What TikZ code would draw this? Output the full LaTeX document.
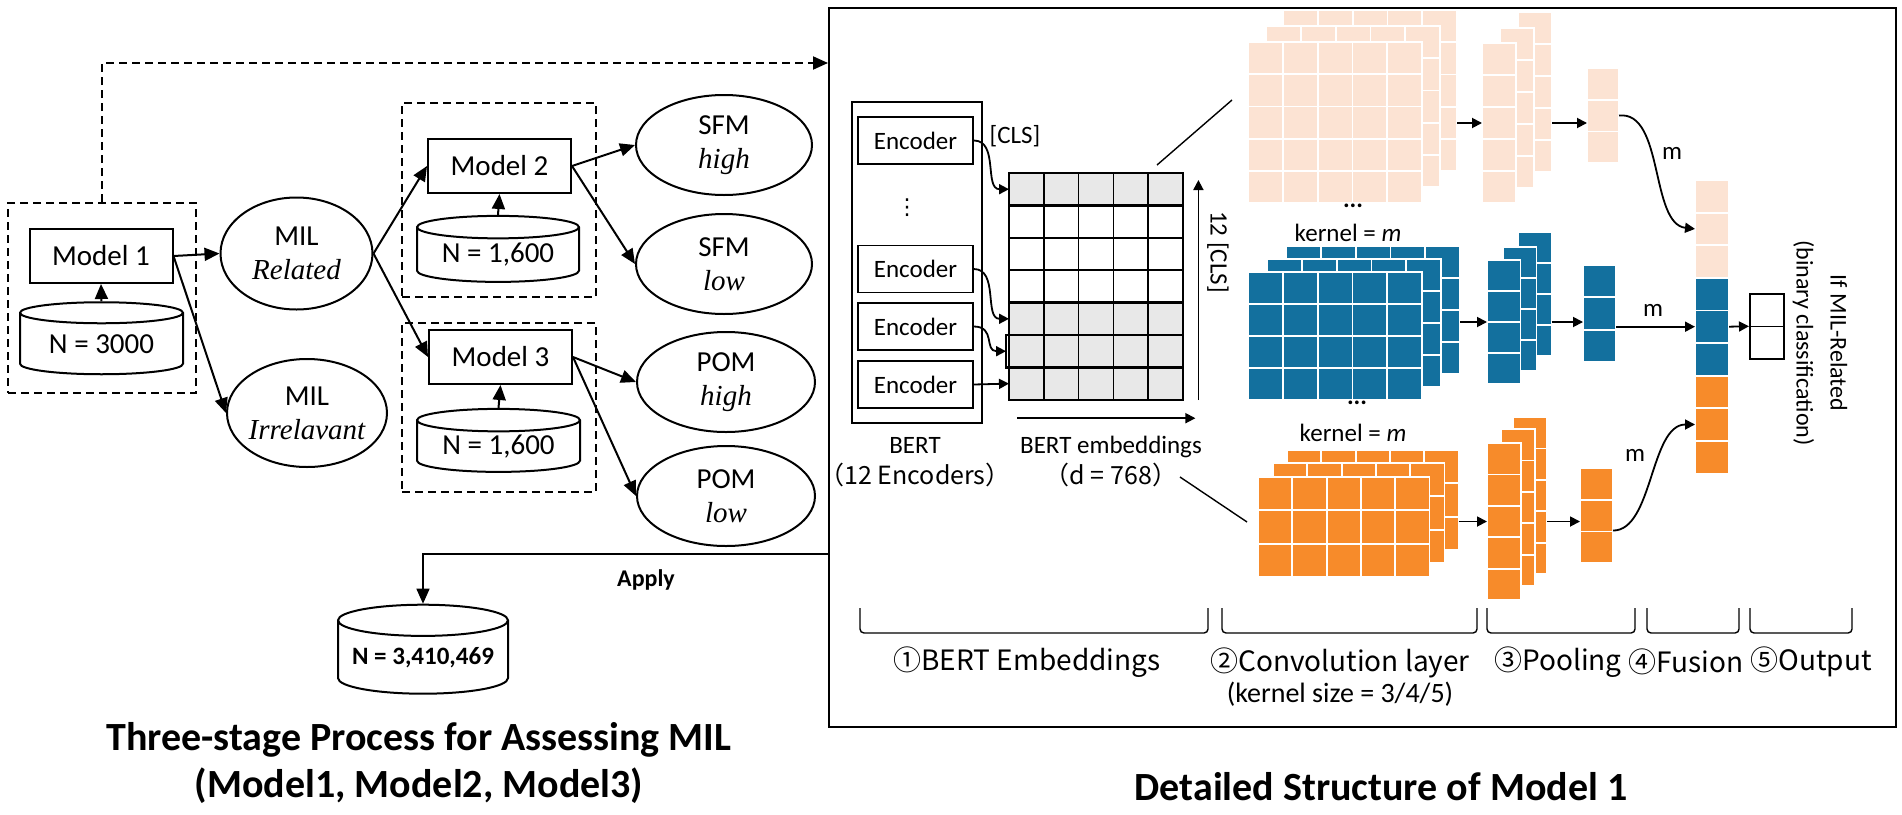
\documentclass[tikz,border=0pt]{standalone}
\usepackage{fontspec}
\setmainfont{Carlito}
\newfontfamily\tnr{Liberation Serif}
\newfontfamily\cjk{Noto Sans CJK SC}
\newfontfamily\dejavu{DejaVu Sans}
\usetikzlibrary{arrows.meta,shapes.geometric,calc}
\definecolor{peach}{HTML}{FCE3D3}
\definecolor{cnnblue}{HTML}{13709E}
\definecolor{cnnorange}{HTML}{F78B2A}
\definecolor{embgray}{HTML}{E8E8E8}
\newcommand\fsz[2]{\fontsize{#1}{#2}\selectfont}
\newcommand\cells[8]{%
  \node[inner sep=0pt, outer sep=0pt, minimum width=#4*#6pt, minimum height=#5*#7pt, anchor=north west] (#1) at (#2,#3) {};
  \foreach \i in {1,...,#4}{\foreach \j in {1,...,#5}{\filldraw[fill=#8, draw=white, line width=1.8pt] ({#2+(\i-1)*#6},{#3+(\j-1)*#7}) rectangle ++(#6,#7);}}}
\begin{document}
\begin{tikzpicture}[x=1pt,y=-1pt,
  box/.style={draw, line width=2pt, minimum width=143pt, minimum height=54pt, inner sep=0pt, font=\fsz{29}{34}},
  grp/.style={draw, line width=2pt, dash pattern=on 8pt off 5pt, inner sep=0pt},
  db/.style={cylinder, shape border rotate=90, aspect=0.2, draw, line width=2pt, inner sep=0pt, font=\fsz{29}{34}},
  oval/.style={ellipse, draw, line width=2pt, inner sep=0pt},
  txt/.style={font=\fsz{29}{34}, align=center, inner sep=0pt},
  arr/.style={line width=2pt, -{Triangle[length=15pt,width=13pt]}},
  enc/.style={draw, line width=1.6pt, minimum width=115pt, minimum height=47pt, inner sep=0pt, font=\fsz{25}{30}},
  lab/.style={font=\fsz{25}{31}, inner sep=0pt, align=center},
  sarr/.style={line width=1.8pt, -{Triangle[length=10pt,width=10pt]}},
  stage/.style={font=\fsz{28}{31}, inner sep=0pt, align=center},
  ttl/.style={font=\bfseries\fsz{40}{47}, inner sep=0pt, align=center},
  brk/.style={line width=1.4pt, rounded corners=4pt}]
\useasboundingbox (0,0) rectangle (1902,814);
\node[grp, minimum width=188pt, minimum height=190pt] (g1) at (102,298) {};
\node[box] (m1) at (101,256) {Model 1};
\node[db, minimum width=163pt, minimum height=72pt] (d1) at (101.5,344) {N = 3000};
\node[oval, minimum width=152pt, minimum height=112pt] (milr) at (296.5,253.5) {};
\node[txt] at (milr) {MIL\\{\tnr\itshape Related}};
\node[oval, minimum width=160pt, minimum height=108pt] (mili) at (307,413) {};
\node[txt] at (mili) {MIL\\{\tnr\itshape Irrelavant}};
\node[grp, minimum width=194pt, minimum height=194pt] (g2) at (499,200) {};
\node[box] (m2) at (499.5,166) {Model 2};
\node[db, minimum width=162pt, minimum height=66pt] (d2) at (498,255) {N = 1,600};
\node[grp, minimum width=194pt, minimum height=169pt] (g3) at (499,407.5) {};
\node[box] (m3) at (500.5,357) {Model 3};
\node[db, minimum width=163pt, minimum height=63pt] (d3) at (498.5,446.5) {N = 1,600};
\node[oval, minimum width=176pt, minimum height=100pt] (sfmh) at (724,145) {};
\node[txt] at (sfmh) {SFM\\{\tnr\itshape high}};
\node[oval, minimum width=176pt, minimum height=100pt] (sfml) at (724,264) {};
\node[txt] at (sfml) {SFM\\{\tnr\itshape low}};
\node[oval, minimum width=178pt, minimum height=100pt] (pomh) at (726,382) {};
\node[txt] at (pomh) {POM\\{\tnr\itshape high}};
\node[oval, minimum width=178pt, minimum height=100pt] (poml) at (726,496) {};
\node[txt] at (poml) {POM\\{\tnr\itshape low}};
\draw[arr] (d1.north) -- (m1.south);
\draw[arr] (d2.north) -- (m2.south);
\draw[arr] (d3.north) -- (m3.south);
\draw[arr] (m1.east) -- (milr.west);
\draw[arr] (m1.east) -- (mili.west);
\draw[arr] (milr.east) -- (m2.west);
\draw[arr] (milr.east) -- (m3.west);
\draw[arr] (m2.east) -- (sfmh.west);
\draw[arr] (m2.east) -- (sfml.west);
\draw[arr] (m3.east) -- (pomh.west);
\draw[arr] (m3.east) -- (poml.west);
\node[draw, line width=2pt, inner sep=0pt, minimum width=1067pt, minimum height=719pt, anchor=north west] (detail) at (828,7) {};
\draw[line width=2pt, dash pattern=on 8pt off 5pt, -{Triangle[length=15pt,width=13pt]}] (g1.north) |- ($(detail.north west)+(0,56)$);
\node[db, aspect=0.22, minimum width=170pt, minimum height=89pt, font=\bfseries\fsz{25}{30}] (d4) at (423,657.5) {N = 3,410,469};
\coordinate (ap) at ($(detail.north west)+(0,547)$);
\draw[line width=1.5pt, -{Triangle[length=15pt,width=13pt]}] (ap) -| (d4.north);
\node[font=\bfseries\fsz{24}{28}, inner sep=0pt] (apply) at (646,580) {Apply};
\node[ttl] (t1) at (419,763) {Three-stage Process for Assessing MIL\\(Model1, Model2, Model3)};
\node[ttl] (t2) at (1381,787) {Detailed Structure of Model 1};
\node[draw, line width=1.6pt, inner sep=0pt, minimum width=130pt, minimum height=321pt] (bert) at (917,262.5) {};
\node[enc] (e1) at (915.5,140.5) {Encoder};
\node[lab, font=\dejavu\fsz{22}{26}] (vd) at (907,208) {⋮};
\node[enc] (e2) at (915.5,269) {Encoder};
\node[enc] (e3) at (915.5,326.5) {Encoder};
\node[enc] (e4) at (915.5,384.5) {Encoder};
\node[lab] (bl) at (915,462) {BERT\\\cjk{（}12 Encoders\cjk{）}};
\node[inner sep=0pt, minimum width=174pt, minimum height=226.8pt, anchor=north west] (emb) at (1009,173) {};
\foreach \r in {0,4,5,6} \fill[embgray] (1009,{173+\r*32.4}) rectangle ++(174,32.4);
\foreach \r in {0,...,7} \draw[line width=1.6pt] (1009,{173+\r*32.4}) -- ++(174,0);
\foreach \c in {0,...,5} \draw[line width=1.6pt] ({1009+\c*34.8},173) -- ++(0,226.8);
\draw[line width=2.6pt] (1009,173) rectangle (1183,205.4) (1009,302.6) rectangle (1183,335) (1006,335) rectangle (1183,367.4) (1009,367.4) rectangle (1183,399.8);
\node[lab] (cls) at (1015,136) {[CLS]};
\draw[sarr] (e1.east) .. controls +(25,0) and +(-25,0) .. ($(emb.north west)+(0,16.2)$);
\draw[sarr] (e2.east) .. controls +(25,0) and +(-25,0) .. ($(emb.north west)+(0,145.8)$);
\draw[sarr] (e3.east) .. controls +(22,0) and +(-22,0) .. ($(emb.north west)+(-3,178.2)$);
\draw[sarr] (e4.east) -- ($(emb.north west)+(0,210.6)$);
\draw[sarr] ($(emb.south east)+(15,0)$) -- ($(emb.north east)+(15,7)$);
\node[lab, rotate=-90] (dcls) at (1218,252) {12 [CLS]};
\draw[sarr] ($(emb.south west)+(8,18)$) -- ($(emb.south east)+(12,18)$);
\node[lab] (el) at (1111,462) {BERT embeddings\\\cjk{（}\textit{d} = 768\cjk{）}};
\coordinate (za) at (1157,165); \coordinate (zb) at (1232,100);
\coordinate (zc) at (1180,477); \coordinate (zd) at (1247,522);
\draw[line width=1.4pt] (za) -- (zb) (zc) -- (zd);
\cells{pc3}{1283}{10}{5}{5}{34.8}{32.2}{peach}
\cells{pc2}{1266}{26}{5}{5}{34.8}{32.2}{peach}
\cells{pc1}{1248}{42}{5}{5}{34.8}{32.2}{peach}
\node[lab] (dt1) at (1353,206) {\textbf{...}};
\node[lab] (k1) at (1348,233) {kernel = \textit{m}};
\cells{bc3}{1286}{246}{5}{4}{34.8}{32}{cnnblue}
\cells{bc2}{1267}{259}{5}{4}{34.8}{32}{cnnblue}
\cells{bc1}{1248}{272}{5}{4}{34.8}{32}{cnnblue}
\node[lab] (dt2) at (1357,403) {\textbf{...}};
\node[lab] (k2) at (1353,433) {kernel = \textit{m}};
\cells{oc3}{1287}{450}{5}{3}{34.3}{33.3}{cnnorange}
\cells{oc2}{1273}{463}{5}{3}{34.3}{33.3}{cnnorange}
\cells{oc1}{1258}{477}{5}{3}{34.3}{33.3}{cnnorange}
\cells{pk3}{1518}{12}{1}{5}{34}{32}{peach}
\cells{pk2}{1500}{28}{1}{5}{34}{32}{peach}
\cells{pk1}{1482}{43}{1}{5}{34}{32}{peach}
\cells{bk3}{1518}{232}{1}{4}{33.5}{31}{cnnblue}
\cells{bk2}{1503}{247}{1}{4}{33.5}{31}{cnnblue}
\cells{bk1}{1487}{260}{1}{4}{33.5}{31}{cnnblue}
\cells{ok3}{1513}{417}{1}{5}{34}{31.4}{cnnorange}
\cells{ok2}{1501}{429}{1}{5}{34}{31.4}{cnnorange}
\cells{ok1}{1487}{443}{1}{5}{34}{31.4}{cnnorange}
\cells{pp}{1587}{68}{1}{3}{32}{31.7}{peach}
\cells{bp}{1583}{265}{1}{3}{33}{32.3}{cnnblue}
\cells{op}{1580}{468}{1}{3}{33}{31.7}{cnnorange}
\cells{fuP}{1695}{180}{1}{3}{34}{32.6}{peach}
\cells{fuB}{1695}{277.8}{1}{3}{34}{32.6}{cnnblue}
\cells{fuO}{1695}{375.6}{1}{3}{34}{32.6}{cnnorange}
\draw[sarr] (pc3.east |- pk1.center) -- (pk1.west);
\draw[sarr] (pk3.east |- pk1.center) -- (pp.west |- pk1.center);
\draw[sarr] (bc3.east |- bk1.center) -- (bk1.west);
\draw[sarr] (bk3.east |- bk1.center) -- (bp.west |- bk1.center);
\draw[sarr] (oc3.east |- ok1.center) -- (ok1.west);
\draw[sarr] (ok3.east |- ok1.center) -- (op.west |- ok1.center);
\draw[sarr] (pp.east) .. controls +(45,-5) and +(-45,-5) .. (fuP.west);
\draw[sarr] (bp.east |- fuB.west) -- (fuB.west);
\draw[sarr] ($(op.east)+(0,15)$) .. controls +(40,0) and +(-45,0) .. (fuO.west);
\node[lab] (mp) at (1672,153) {m};
\node[lab] (mb) at (1653,310) {m};
\node[lab] (mo) at (1635,455) {m};
\node[draw, line width=1.5pt, inner sep=0pt, minimum width=34pt, minimum height=65pt, anchor=north west] (out) at (1749,293) {};
\draw[line width=1.5pt] (out.west) -- (out.east);
\draw[sarr] (fuB.east) -- (out.west);
\node[font=\fsz{24}{34}, inner sep=0pt, align=center, rotate=-90] (res) at (1820,343) {If MIL-Related\\(binary classification)};
\foreach \a/\b in {860/1208,1222/1477,1487/1635,1647/1739,1750/1852} \draw[brk] (\a,608) -- (\a,633) -- (\b,633) -- (\b,608);
\node[stage] (s1) at (1027,662) {\cjk{①}BERT Embeddings};
\node[stage] (s2) at (1340,677) {\cjk{②}Convolution layer\\(kernel size = 3/4/5)};
\node[stage] (s3) at (1558,662) {\cjk{③}Pooling};
\node[stage] (s4) at (1686,662) {\cjk{④}Fusion};
\node[stage] (s5) at (1811,662) {\cjk{⑤}Output};
\end{tikzpicture}
\end{document}
